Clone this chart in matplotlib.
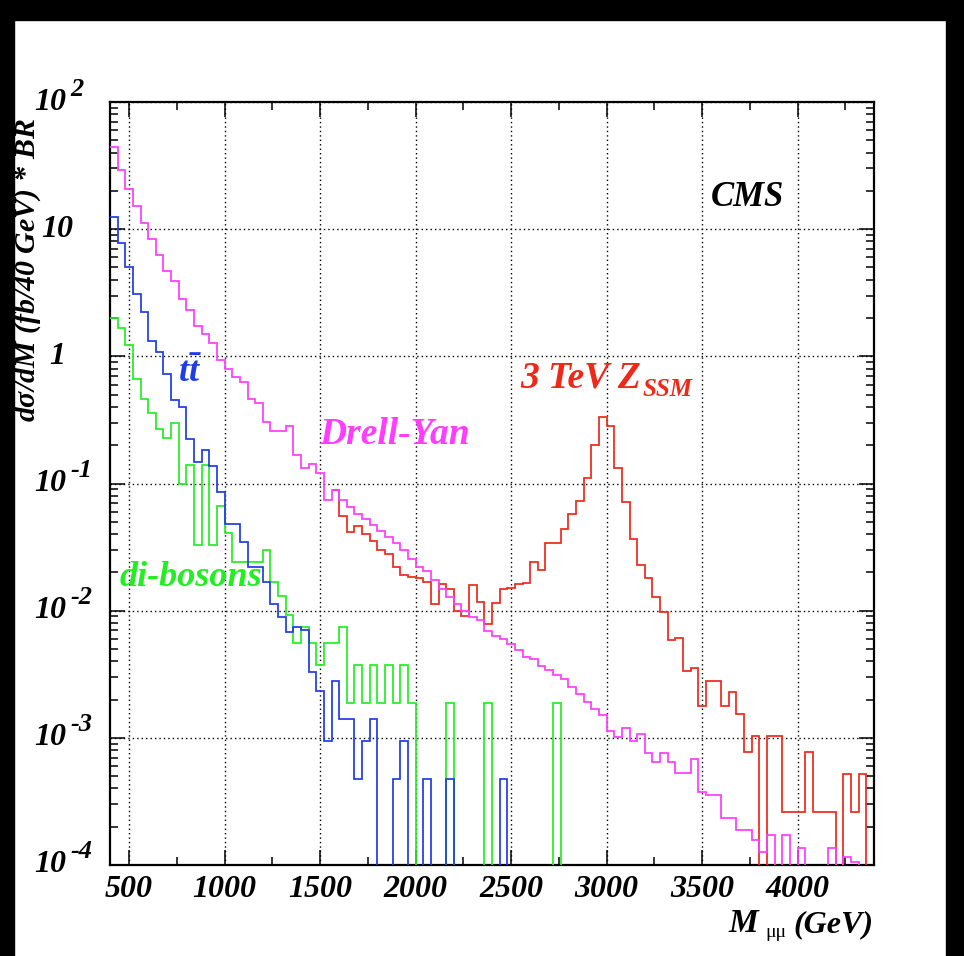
import numpy as np
import matplotlib
matplotlib.use("Agg")
import matplotlib.pyplot as plt
from matplotlib.patches import Rectangle
from matplotlib.ticker import MultipleLocator, LogLocator, NullFormatter, FixedLocator
import matplotlib.transforms as mtransforms

# ---------------- data ----------------
bin_lo = 400
bin_width = 40
n_bins = 100

drell_yan = [44, 29.3, 20.8, 15.1, 11.1, 8.3, 6.25, 4.71, 3.92, 2.83,
             2.32, 1.74, 1.51, 1.27, 0.93, 0.80, 0.685, 0.63, 0.46, 0.43,
             0.304, 0.261, 0.261, 0.281, 0.168, 0.132, 0.142, 0.121, 0.0744, 0.089,
             0.0744, 0.065, 0.058, 0.053, 0.047, 0.042, 0.038, 0.034, 0.0299, 0.0257,
             0.0221, 0.0205, 0.0175, 0.0149, 0.0129, 0.0113, 0.0100, 0.00886, 0.00844, 0.00694,
             0.00633, 0.00596, 0.00544, 0.00488, 0.00431, 0.00414, 0.0037, 0.0034, 0.0031, 0.0029,
             0.0025, 0.0022, 0.0019, 0.0017, 0.0015, 0.00113, 0.00101, 0.0012, 0.00094, 0.00108,
             0.00076, 0.00065, 0.00076, 0.00065, 0.00053, 0.00053, 0.00068, 0.000375, 0.000353, 0.000353,
             0.000233, 0.000233, 0.000189, 0.000189, 0.000157, 0.000126, 0.000172, 0, 0.000172, 0,
             0.000135, 0, 0, 0, 0.000135, 0, 0.000115, 0.000105, 0, 0]

ttbar = [12.4, 7.73, 5.07, 3.08, 2.23, 1.31, 1.09, 0.72, 0.457, 0.397,
         0.225, 0.148, 0.182, 0.137, 0.0865, 0.0482, 0.0482, 0.0346, 0.0222, 0.0222,
         0.0169, 0.0112, 0.00887, 0.0068, 0.0075, 0.00706, 0.00327, 0.00235, 0.00094, 0.00282,
         0.00141, 0.00141, 0.000471, 0.00094, 0.00141, 0, 0, 0.000471, 0.00094, 0,
         0, 0.000471, 0, 0, 0.000471, 0, 0, 0, 0, 0,
         0, 0.000471, 0, 0, 0, 0, 0, 0, 0, 0,
         0, 0, 0, 0, 0, 0, 0, 0, 0, 0,
         0, 0, 0, 0, 0, 0, 0, 0, 0, 0,
         0, 0, 0, 0, 0, 0, 0, 0, 0, 0,
         0, 0, 0, 0, 0, 0, 0, 0, 0, 0]

dibosons = [2.0, 1.67, 1.22, 0.66, 0.46, 0.36, 0.266, 0.23, 0.298, 0.0995,
            0.14, 0.0329, 0.14, 0.0329, 0.066, 0.0407, 0.0243, 0.0243, 0.0243, 0.0243,
            0.030, 0.0169, 0.0131, 0.0093, 0.00561, 0.0075, 0.00561, 0.00375, 0.00561, 0.00561,
            0.0075, 0.00188, 0.00375, 0.00188, 0.00375, 0.00188, 0.00375, 0.00188, 0.00375, 0.00188,
            0, 0, 0, 0, 0.00188, 0, 0, 0, 0, 0.00188,
            0, 0, 0, 0, 0, 0, 0, 0, 0.00188, 0,
            0, 0, 0, 0, 0, 0, 0, 0, 0, 0,
            0, 0, 0, 0, 0, 0, 0, 0, 0, 0,
            0, 0, 0, 0, 0, 0, 0, 0, 0, 0,
            0, 0, 0, 0, 0, 0, 0, 0, 0, 0]

zssm_start = 1600
zssm = [0.0553, 0.0417, 0.046, 0.040, 0.035, 0.030, 0.028, 0.022, 0.019, 0.0184,
        0.0182, 0.0168, 0.0112, 0.0163, 0.0149, 0.0100, 0.0091, 0.0158, 0.0116, 0.0078,
        0.0114, 0.0149, 0.015, 0.0163, 0.0166, 0.0241, 0.021, 0.0338, 0.0338, 0.0436,
        0.0578, 0.0724, 0.110, 0.20, 0.333, 0.285, 0.133, 0.071, 0.0364, 0.0228,
        0.018, 0.0129, 0.0098, 0.0059, 0.0061, 0.00333, 0.00357, 0.00179, 0.00281, 0.00281,
        0.00179, 0.00231, 0.00154, 0.00077, 0.00103, 0, 0.00103, 0.00103, 0.000263, 0.000263,
        0.000263, 0.00077, 0.000263, 0.000263, 0.000263, 0, 0.000522, 0.000263, 0.000522, 0]

x_ticks = [500, 1000, 1500, 2000, 2500, 3000, 3500, 4000]
x_tick_labels = ["500", "1000", "1500", "2000", "2500", "3000", "3500", "4000"]
y_ticks = [1e-4, 1e-3, 1e-2, 1e-1, 1, 10, 100]
y_tick_mant = ["10", "10", "10", "10", "1", "10", "10"]
y_tick_exp = ["-4", "-3", "-2", "-1", "", "", "2"]

# ---------------- style ----------------
W, H = 964, 956
FONT = dict(family="Liberation Serif", weight="bold", style="italic")
plt.rcParams["mathtext.fontset"] = "custom"
plt.rcParams["mathtext.rm"] = "Liberation Serif:bold:italic"
plt.rcParams["mathtext.it"] = "Liberation Serif:bold:italic"
plt.rcParams["mathtext.bf"] = "Liberation Serif:bold:italic"

c_dy = "#ff3cff"
c_tt = "#1e3ce8"
c_vv = "#22ee22"
c_zp = "#f0281a"

fig = plt.figure(figsize=(W / 100, H / 100), dpi=100)
fig.patch.set_facecolor("white")

L, R, T, B = 110, 874, 102, 865
ax = fig.add_axes([L / W, 1 - B / H, (R - L) / W, (B - T) / H])
ax.set_xlim(400, 4400)
ax.set_yscale("log")
ax.set_ylim(1e-4, 1e2)

edges = bin_lo + bin_width * np.arange(n_bins + 1)

def pos(v):
    v = np.asarray(v, dtype=float)
    return np.where(v > 0, v, 1e-9)

lw = 1.25
i0 = (zssm_start - bin_lo) // bin_width
zp_vals = np.concatenate([[drell_yan[i0 - 1]], zssm])
zp_edges = bin_lo + bin_width * np.arange(i0 - 1, i0 + len(zssm) + 1)
ax.stairs(pos(zp_vals), zp_edges, baseline=None, color=c_zp, lw=lw, zorder=3)
ax.stairs(pos(drell_yan), edges, baseline=None, color=c_dy, lw=lw, zorder=4)
ax.stairs(pos(dibosons), edges, baseline=None, color=c_vv, lw=lw, zorder=5)
ax.stairs(pos(ttbar), edges, baseline=None, color=c_tt, lw=lw, zorder=6)

ax.xaxis.set_major_locator(FixedLocator(x_ticks))
ax.xaxis.set_minor_locator(MultipleLocator(250))
ax.yaxis.set_major_locator(FixedLocator(y_ticks))
ax.yaxis.set_minor_locator(LogLocator(base=10, subs=np.arange(2, 10), numticks=20))
ax.yaxis.set_minor_formatter(NullFormatter())
ax.grid(True, which="major", color="black", linestyle=(0, (1, 2.2)), linewidth=1.0, zorder=1)
ax.set_axisbelow(True)
ax.tick_params(which="both", direction="in", top=True, right=True, width=1.1,
               labelbottom=False, labelleft=False)
ax.tick_params(which="major", length=11)
ax.tick_params(which="minor", length=5.5)
for s in ax.spines.values():
    s.set_linewidth(1.6)

tr_x = mtransforms.blended_transform_factory(ax.transData, fig.transFigure)
for v, lab in zip(x_ticks, x_tick_labels):
    ax.text(v, 1 - 875 / H, lab, transform=tr_x, ha="center", va="top",
            fontsize=23, **FONT)

tr_y = mtransforms.blended_transform_factory(fig.transFigure, ax.transData)
up = mtransforms.ScaledTranslation(0, 13 / 100, fig.dpi_scale_trans)
for v, m, e in zip(y_ticks, y_tick_mant, y_tick_exp):
    if e:
        ax.text(66 / W, v, m, transform=tr_y, ha="right", va="center", fontsize=23, **FONT)
        ax.text(70 / W, v, e, transform=tr_y + up,
                ha="left", va="center", fontsize=19, **FONT)
    else:
        ax.text(57 / W, v, m, transform=tr_y, ha="center", va="center", fontsize=23, **FONT)

fig.text(28 / W, 1 - 118 / H, r"d$\sigma$/dM (fb/40 GeV) * BR", rotation=90,
         ha="center", va="top", fontsize=21.5, **FONT)
fig.text(873 / W, 1 - 932 / H, "(GeV)", ha="right", va="baseline", fontsize=23, **FONT)
fig.text(776 / W, 1 - 937 / H, "\u03bc\u03bc", ha="center", va="baseline", fontsize=14,
         family="Liberation Serif")
fig.text(728 / W, 1 - 932 / H, "M", ha="left", va="baseline", fontsize=24, **FONT)

fig.text(748 / W, 1 - 197 / H, "CMS", ha="center", va="center", fontsize=25, color="black", **FONT)
fig.text(190 / W, 1 - 372 / H, r"$t\bar{t}$", ha="center", va="center", fontsize=26, color=c_tt)
fig.text(395 / W, 1 - 435 / H, "Drell-Yan", ha="center", va="center", fontsize=27, color=c_dy, **FONT)
fig.text(520 / W, 1 - 387 / H, "3 TeV Z", ha="left", va="baseline", fontsize=27, color=c_zp, **FONT)
fig.text(643 / W, 1 - 396 / H, "SSM", ha="left", va="baseline", fontsize=18, color=c_zp, **FONT)
fig.text(191 / W, 1 - 578 / H, "di-bosons", ha="center", va="center", fontsize=26, color=c_vv, **FONT)

for (x0, y0, w, h) in [(0, H - 20, W, 20), (0, 0, 14, H), (946, 0, 18, H)]:
    fig.add_artist(Rectangle((x0 / W, y0 / H), w / W, h / H, transform=fig.transFigure,
                             color="black", zorder=10))

fig.savefig("out.png", dpi=100)
